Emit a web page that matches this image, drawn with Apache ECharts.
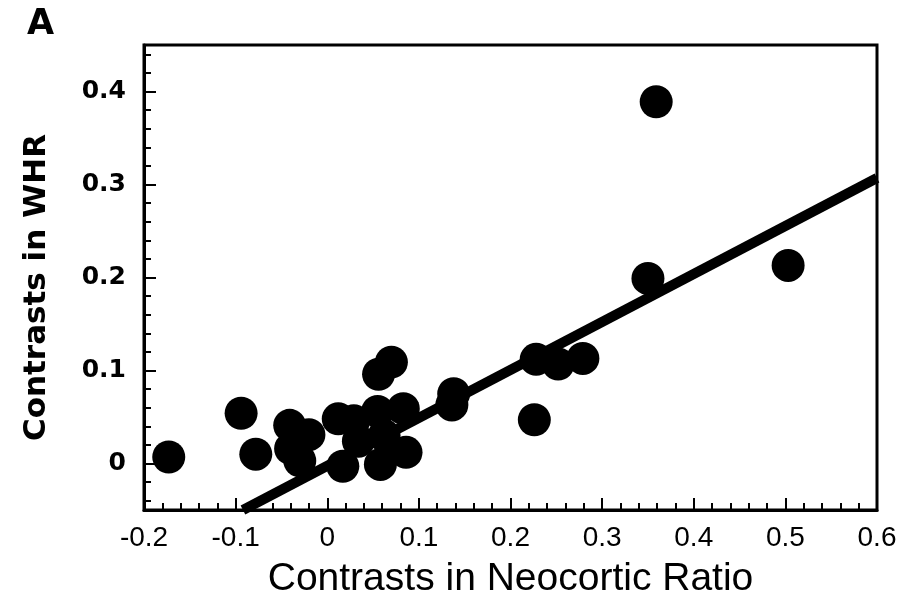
<!DOCTYPE html>
<html>
<head>
<meta charset="utf-8">
<script src="https://cdn.jsdelivr.net/npm/echarts@6/dist/echarts.min.js"></script>
<style>html,body{margin:0;padding:0;background:#fff;}#c{width:914px;height:600px;}</style>
</head>
<body>
<div id="c"></div>
<script>
// Data
const pointsX = [-0.173, -0.094, -0.078, -0.041, -0.040, -0.030, -0.020, 0.012, 0.017, 0.029, 0.034, 0.055, 0.056, 0.070, 0.058, 0.083, 0.086, 0.062, 0.138, 0.136, 0.226, 0.228, 0.252, 0.279, 0.350, 0.359, 0.503];
const pointsY = [0.007, 0.054, 0.010, 0.041, 0.016, 0.003, 0.031, 0.048, -0.003, 0.046, 0.024, 0.056, 0.096, 0.109, -0.001, 0.059, 0.012, 0.030, 0.075, 0.063, 0.047, 0.112, 0.107, 0.113, 0.199, 0.389, 0.213];
const fitX = [-0.092, 0.6];
const fitY = [-0.05, 0.307];
const yMajorTicks = [0, 0.1, 0.2, 0.3, 0.4];
const yMinorTicks = [-0.04, -0.02, 0.02, 0.04, 0.06, 0.08, 0.12, 0.14, 0.16, 0.18, 0.22, 0.24, 0.26, 0.28, 0.32, 0.34, 0.36, 0.38, 0.42, 0.44];
const xTitle = 'Contrasts in Neocortic Ratio';
const yTitle = 'Contrasts in WHR';
const panelLabel = 'A';

const scatterData = pointsX.map((x, i) => [x, pointsY[i]]);
const fitData = fitX.map((x, i) => [x, fitY[i]]);

const chart = echarts.init(document.getElementById('c'), null, {renderer: 'canvas'});
const sans = '"Liberation Sans", Arial, sans-serif';
const dejavu = '"DejaVu Sans", Verdana, sans-serif';
chart.setOption({
  backgroundColor: '#fff',
  animation: false,
  title: {
    text: panelLabel, left: 22, top: 2,
    textStyle: {fontFamily: dejavu, fontWeight: 'bold', fontSize: 35, color: '#000'}
  },
  grid: {left: 144, right: 37, top: 45, bottom: 90, containLabel: false, outerBoundsMode: 'none', show: true, borderColor: '#000', borderWidth: 3, backgroundColor: 'transparent'},
  xAxis: {
    type: 'value', min: -0.2, max: 0.6, interval: 0.1,
    name: xTitle, nameLocation: 'middle', nameGap: 50,
    nameTextStyle: {fontFamily: sans, fontSize: 39, color: '#000'},
    axisLine: {show: true, onZero: false, lineStyle: {color: '#000', width: 3}},
    axisTick: {show: true, inside: true, length: 12, lineStyle: {color: '#000', width: 2}},
    minorTick: {show: true, splitNumber: 5, length: 7, lineStyle: {color: '#000', width: 2}},
    splitLine: {show: false},
    axisLabel: {fontFamily: sans, fontSize: 28, color: '#000', margin: 14, formatter: v => String(Math.round(v * 10) / 10)}
  },
  yAxis: [{
    type: 'value', min: -0.05, max: 0.45,
    name: yTitle, nameLocation: 'middle', nameGap: 92, nameRotate: 90,
    nameTextStyle: {fontFamily: dejavu, fontWeight: 'bold', fontSize: 31, color: '#000', padding: [0, 20, 0, 0]},
    axisLine: {show: true, onZero: false, lineStyle: {color: '#000', width: 3}},
    axisTick: {show: true, inside: true, length: 12, customValues: yMajorTicks, lineStyle: {color: '#000', width: 2}},
    splitLine: {show: false},
    axisLabel: {fontFamily: dejavu, fontWeight: 'bold', fontSize: 25, color: '#000', margin: 18, customValues: yMajorTicks, formatter: v => String(Math.round(v * 10) / 10)}
  }, {
    type: 'value', min: -0.05, max: 0.45, position: 'left', offset: 0,
    axisLine: {show: false, onZero: false},
    axisTick: {show: true, inside: true, length: 7, customValues: yMinorTicks, lineStyle: {color: '#000', width: 2}},
    splitLine: {show: false},
    axisLabel: {show: false}
  }],
  series: [{
    type: 'scatter', data: scatterData, symbol: 'circle', symbolSize: 33,
    itemStyle: {color: '#000', opacity: 1}, z: 3
  }, {
    type: 'line', data: fitData, symbol: 'none', showSymbol: false,
    lineStyle: {color: '#000', width: 10}, z: 4
  }]
});
</script>
</body>
</html>
